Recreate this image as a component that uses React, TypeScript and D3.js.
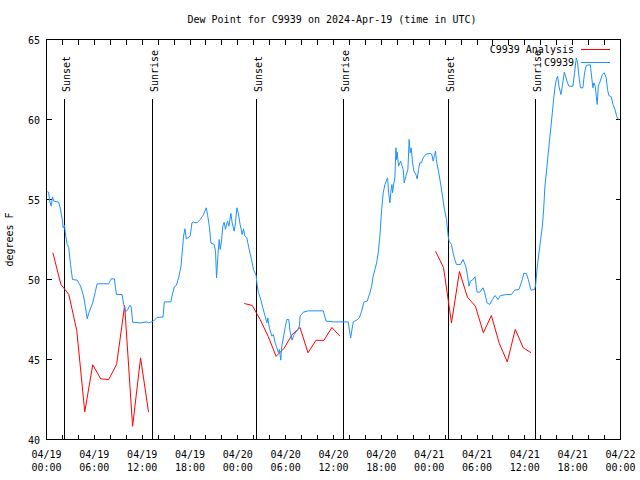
import * as React from "react";
import * as d3 from "d3";

// hours after 2024-04-19 00:00 UTC
const obsHours = [
	0.1, 0.25, 0.41, 0.59, 0.75, 0.91, 1.54, 1.75, 1.97, 2.09, 2.25, 2.42, 2.59, 2.79, 3.01, 3.26, 3.84,
	4.26, 4.6, 4.88, 5.1, 5.3, 5.8, 6.14, 6.35, 7.8, 8.1, 8.51, 8.77, 9.48, 9.68, 9.93, 10.18, 10.43,
	10.61, 10.81, 11.77, 12.61, 12.81, 13.02, 13.44, 13.86, 14.61, 14.78, 15.61, 15.74, 16.03, 16.28,
	16.57, 16.87, 17.07, 17.19, 17.37, 17.53, 18.03, 18.24, 18.44, 18.87, 19.28, 19.7, 20.04, 20.2,
	20.45, 20.62, 21.04, 21.2, 21.33, 21.54, 21.66, 21.79, 21.95, 22.13, 22.29, 22.45, 22.7, 22.88,
	23.13, 23.29, 23.54, 23.7, 23.88, 24.04, 24.29, 24.54, 24.71, 24.88, 25.13, 25.38, 25.71, 25.96,
	26.3, 26.38, 26.58, 26.88, 27.13, 27.42, 27.64, 27.76, 27.96, 28.26, 28.46, 28.68, 28.89, 29.09,
	29.21, 29.39, 29.51, 29.71, 29.93, 30.14, 30.39, 30.55, 30.8, 31.05, 31.39, 31.72, 31.81, 32.22,
	32.85, 34.72, 35.06, 35.98, 37.85, 37.98, 38.15, 38.32, 38.48, 38.91, 39.23, 39.53, 39.82, 40.23,
	40.57, 40.78, 40.98, 41.2, 41.41, 41.61, 41.82, 42.04, 42.24, 42.45, 42.66, 42.79, 42.91, 43.08,
	43.2, 43.33, 43.41, 43.58, 43.7, 43.83, 43.91, 43.99, 44.16, 44.42, 44.58, 44.74, 44.87, 45.08,
	45.33, 45.49, 45.62, 45.74, 45.92, 46.08, 46.33, 46.49, 46.67, 46.83, 47.04, 47.24, 47.58, 48.08,
	48.33, 48.5, 48.67, 48.8, 48.92, 49.17, 49.42, 49.67, 49.92, 50.17, 50.38, 50.5, 50.8, 51.0, 51.21,
	51.42, 51.93, 52.25, 52.59, 52.75, 53.0, 53.18, 53.43, 53.76, 53.93, 54.01, 54.35, 54.76, 54.97,
	55.26, 55.6, 55.94, 56.26, 56.64, 56.94, 57.76, 58.31, 58.73, 59.27, 59.69, 59.86, 60.19, 60.44,
	60.77, 61.23, 61.36, 61.52, 61.77, 61.98, 62.2, 62.36, 62.52, 62.7, 62.9, 63.11, 63.28, 63.45,
	63.61, 63.77, 63.95, 64.11, 64.28, 64.53, 64.7, 64.95, 65.11, 65.28, 65.53, 66.03, 66.24, 66.45,
	66.62, 66.78, 66.99, 67.28, 67.49, 67.71, 68.21, 68.37, 68.54, 68.66, 68.83, 68.96, 69.08, 69.21,
	69.46, 69.71, 69.96, 70.21, 70.37, 70.54, 70.84, 71.05, 71.3, 71.54, 71.75,
];
const obsValues = [
	55.5, 55.46, 54.9, 54.58, 55.17, 54.9, 54.83, 54.4, 53.75, 53.23, 53.4, 52.7, 52.2, 52.0, 50.94, 50.0, 49.96,
	49.6, 49.06, 48.3, 47.54, 47.9, 48.54, 49.27, 49.73, 49.73, 50.04, 50.04, 49.06, 49.06, 48.44, 48.0, 48.1, 48.38,
	48.33, 47.33, 47.29, 47.35, 47.29, 47.33, 47.4, 47.63, 47.65, 48.6, 48.6, 48.96, 49.54, 49.63,
	50.1, 50.83, 51.98, 52.71, 53.17, 52.54, 52.71, 53.54, 53.58, 53.54, 53.75, 54.06, 54.48, 54.06,
	53.23, 52.29, 52.19, 51.77, 50.1, 51.77, 52.5, 51.88, 52.4, 53.38, 53.58, 53.13, 53.65, 53.33,
	54.13, 53.54, 53.02, 53.54, 54.48, 54.2, 53.44, 52.81, 53.17, 52.71, 52.6, 51.98, 51.25, 50.63,
	50.25, 49.79, 49.2, 48.75, 48.23, 47.71, 47.29, 47.6, 46.98, 46.46, 46.56, 46.04, 45.73, 45.42,
	45.63, 44.96, 45.83, 46.35, 46.98, 47.5, 47.5, 46.77, 46.21, 46.56, 46.77, 47.08, 47.71, 47.96,
	48.04, 48.04, 47.4, 47.35, 47.35, 46.88, 46.35, 46.88, 47.35, 47.46, 47.6, 48.02, 48.6, 48.65,
	49.17, 49.58, 50.21, 50.63, 51.04, 51.67, 52.71, 54.38, 55.42, 55.94, 56.21, 56.35, 55.42, 54.79,
	55.52, 55.94, 55.42, 56.04, 56.35, 58.23, 57.5, 57.96, 57.08, 57.4, 57.13, 56.88, 56.04, 56.46,
	56.88, 58.75, 57.92, 58.23, 57.29, 56.77, 56.56, 56.29, 56.88, 57.29, 57.29, 57.6, 57.83, 57.88,
	57.83, 57.4, 57.75, 58.02, 57.4, 56.77, 56.04, 55.21, 54.38, 53.75, 52.71, 52.4, 52.19, 51.67, 51.25,
	50.94, 50.94, 51.25, 50.83, 50.42, 49.58, 49.9, 49.96, 50.17, 49.48, 49.21, 49.21, 49.48, 49.17,
	48.54, 48.44, 48.75, 49.0, 48.75, 49.0, 49.06, 49.06, 49.33, 49.38, 50.0, 50.38, 50.38, 50.0,
	49.33, 49.38, 49.69, 50.6, 51.67, 52.5, 53.33, 54.38, 55.83, 56.67, 57.71, 58.75, 59.58, 60.42,
	61.25, 61.98, 62.5, 62.71, 62.08, 61.56, 62.08, 62.96, 62.71, 62.4, 62.08, 62.08, 62.92, 63.85,
	63.54, 62.71, 61.98, 61.98, 62.92, 63.38, 63.42, 62.71, 61.98, 62.29, 62.08, 61.46, 60.94, 62.08,
	62.4, 62.81, 62.92, 62.6, 61.88, 61.5, 61.42, 60.94, 60.63, 60.17, 60.0,
];

const anaHours = [
	0.8, 1.8, 2.8, 3.8, 4.8, 5.8, 6.8, 7.8, 8.8, 9.8, 10.8, 11.8, 12.8,
	24.8, 25.8, 26.8, 27.8, 28.8, 29.8, 30.8, 31.8, 32.8, 33.8, 34.8, 35.8, 36.8,
	48.8, 49.8, 50.8, 51.8, 52.8, 53.8, 54.8, 55.8, 56.8, 57.8, 58.8, 59.8, 60.8,
];
const anaValues = [
	51.67, 49.7, 49.06, 46.8, 41.73, 44.67, 43.79, 43.75, 44.7, 48.38, 40.83, 45.1, 41.71,
	48.5, 48.38, 47.5, 46.45, 45.2, 45.7, 46.55, 47.0, 45.42, 46.2, 46.2, 47.0, 46.46,
	51.77, 50.75, 47.29, 50.5, 48.9, 48.33, 46.67, 47.75, 46.0, 44.85, 46.88, 45.73, 45.42,
];

const sunHours = [2.2, 13.31, 26.34, 37.23, 50.42, 61.32];
const sunLabels = ["Sunset", "Sunrise", "Sunset", "Sunrise", "Sunset", "Sunrise"];

const yTicks = [40, 45, 50, 55, 60, 65];
const seriesNames = ["C9939 Analysis", "C9939"];
const seriesColors = ["#ff0000", "#1e90ff"];

const start = Date.UTC(2024, 3, 19);
const hourMs = 3600 * 1000;
const toDate = (h: number) => new Date(start + h * hourMs);

const font = "'DejaVu Sans Mono', monospace";

export default function App() {
	const width = 640;
	const height = 480;
	const left = 46.5;
	const right = 620.5;
	const top = 39.5;
	const bottom = 439.5;

	const x = d3.scaleUtc([toDate(0), toDate(72)], [left, right]);
	const y = d3.scaleLinear([40, 65], [bottom, top]);

	const line = d3
		.line<[number, number]>()
		.x((d) => x(toDate(d[0])))
		.y((d) => y(d[1]));

	const obs: [number, number][] = obsHours.map((h, i) => [h, obsValues[i]]);

	// split analysis into runs where hours are consecutive
	const anaSegments: [number, number][][] = [];
	anaHours.forEach((h, i) => {
		if (i === 0 || h - anaHours[i - 1] > 1.5) anaSegments.push([]);
		anaSegments[anaSegments.length - 1].push([h, anaValues[i]]);
	});

	const minorTicks = x.ticks(d3.utcHour.every(2)!);
	const majorTicks = x.ticks(d3.utcHour.every(6)!);
	const fmtDay = d3.utcFormat("%m/%d");
	const fmtTime = d3.utcFormat("%H:%M");

	return (
		<svg
			width={width}
			height={height}
			style={{ position: "absolute", left: 0, top: 0, background: "white" }}
			fontFamily={font}
			fontSize={10}
		>
			<rect width={width} height={height} fill="white" />
			<text x={332} y={23} textAnchor="middle">
				Dew Point for C9939 on 2024-Apr-19 (time in UTC)
			</text>
			<text transform={`translate(13 ${(top + bottom) / 2}) rotate(-90)`} textAnchor="middle">
				degrees F
			</text>

			<g shapeRendering="crispEdges" stroke="black">
				{minorTicks.map((t, i) => (
					<g key={i}>
						<line x1={x(t)} x2={x(t)} y1={bottom} y2={bottom - 5} />
						<line x1={x(t)} x2={x(t)} y1={top} y2={top + 5} />
					</g>
				))}
				{yTicks.map((v) => (
					<g key={v}>
						<line x1={left} x2={left + 5} y1={y(v)} y2={y(v)} />
						<line x1={right} x2={right - 5} y1={y(v)} y2={y(v)} />
					</g>
				))}
			</g>
			{yTicks.map((v) => (
				<text key={v} x={40} y={y(v) + 4} textAnchor="end">
					{v}
				</text>
			))}
			{majorTicks.map((t, i) => (
				<text key={i} x={x(t)} textAnchor="middle">
					<tspan x={x(t)} y={458}>
						{fmtDay(t)}
					</tspan>
					<tspan x={x(t)} y={471}>
						{fmtTime(t)}
					</tspan>
				</text>
			))}

			{sunHours.map((h, i) => {
				const sx = Math.floor(x(toDate(h))) + 0.5;
				return (
					<g key={i}>
						<line x1={sx} x2={sx} y1={99} y2={bottom} stroke="black" shapeRendering="crispEdges" />
						<text transform={`translate(${sx + 5} 92) rotate(-90)`}>{sunLabels[i]}</text>
					</g>
				);
			})}

			{anaSegments.map((seg, i) => (
				<path key={i} d={line(seg) ?? ""} fill="none" stroke={seriesColors[0]} strokeWidth={1} />
			))}
			<path d={line(obs) ?? ""} fill="none" stroke={seriesColors[1]} strokeWidth={1} />

			{seriesNames.map((name, i) => (
				<g key={name}>
					<text x={574} y={53 + 13 * i} textAnchor="end">
						{name}
					</text>
					<line
						x1={581}
						x2={610}
						y1={49.5 + 13 * i}
						y2={49.5 + 13 * i}
						stroke={seriesColors[i]}
						shapeRendering="crispEdges"
					/>
				</g>
			))}

			<rect
				x={left}
				y={top}
				width={right - left}
				height={bottom - top}
				fill="none"
				stroke="black"
				shapeRendering="crispEdges"
			/>
		</svg>
	);
}
